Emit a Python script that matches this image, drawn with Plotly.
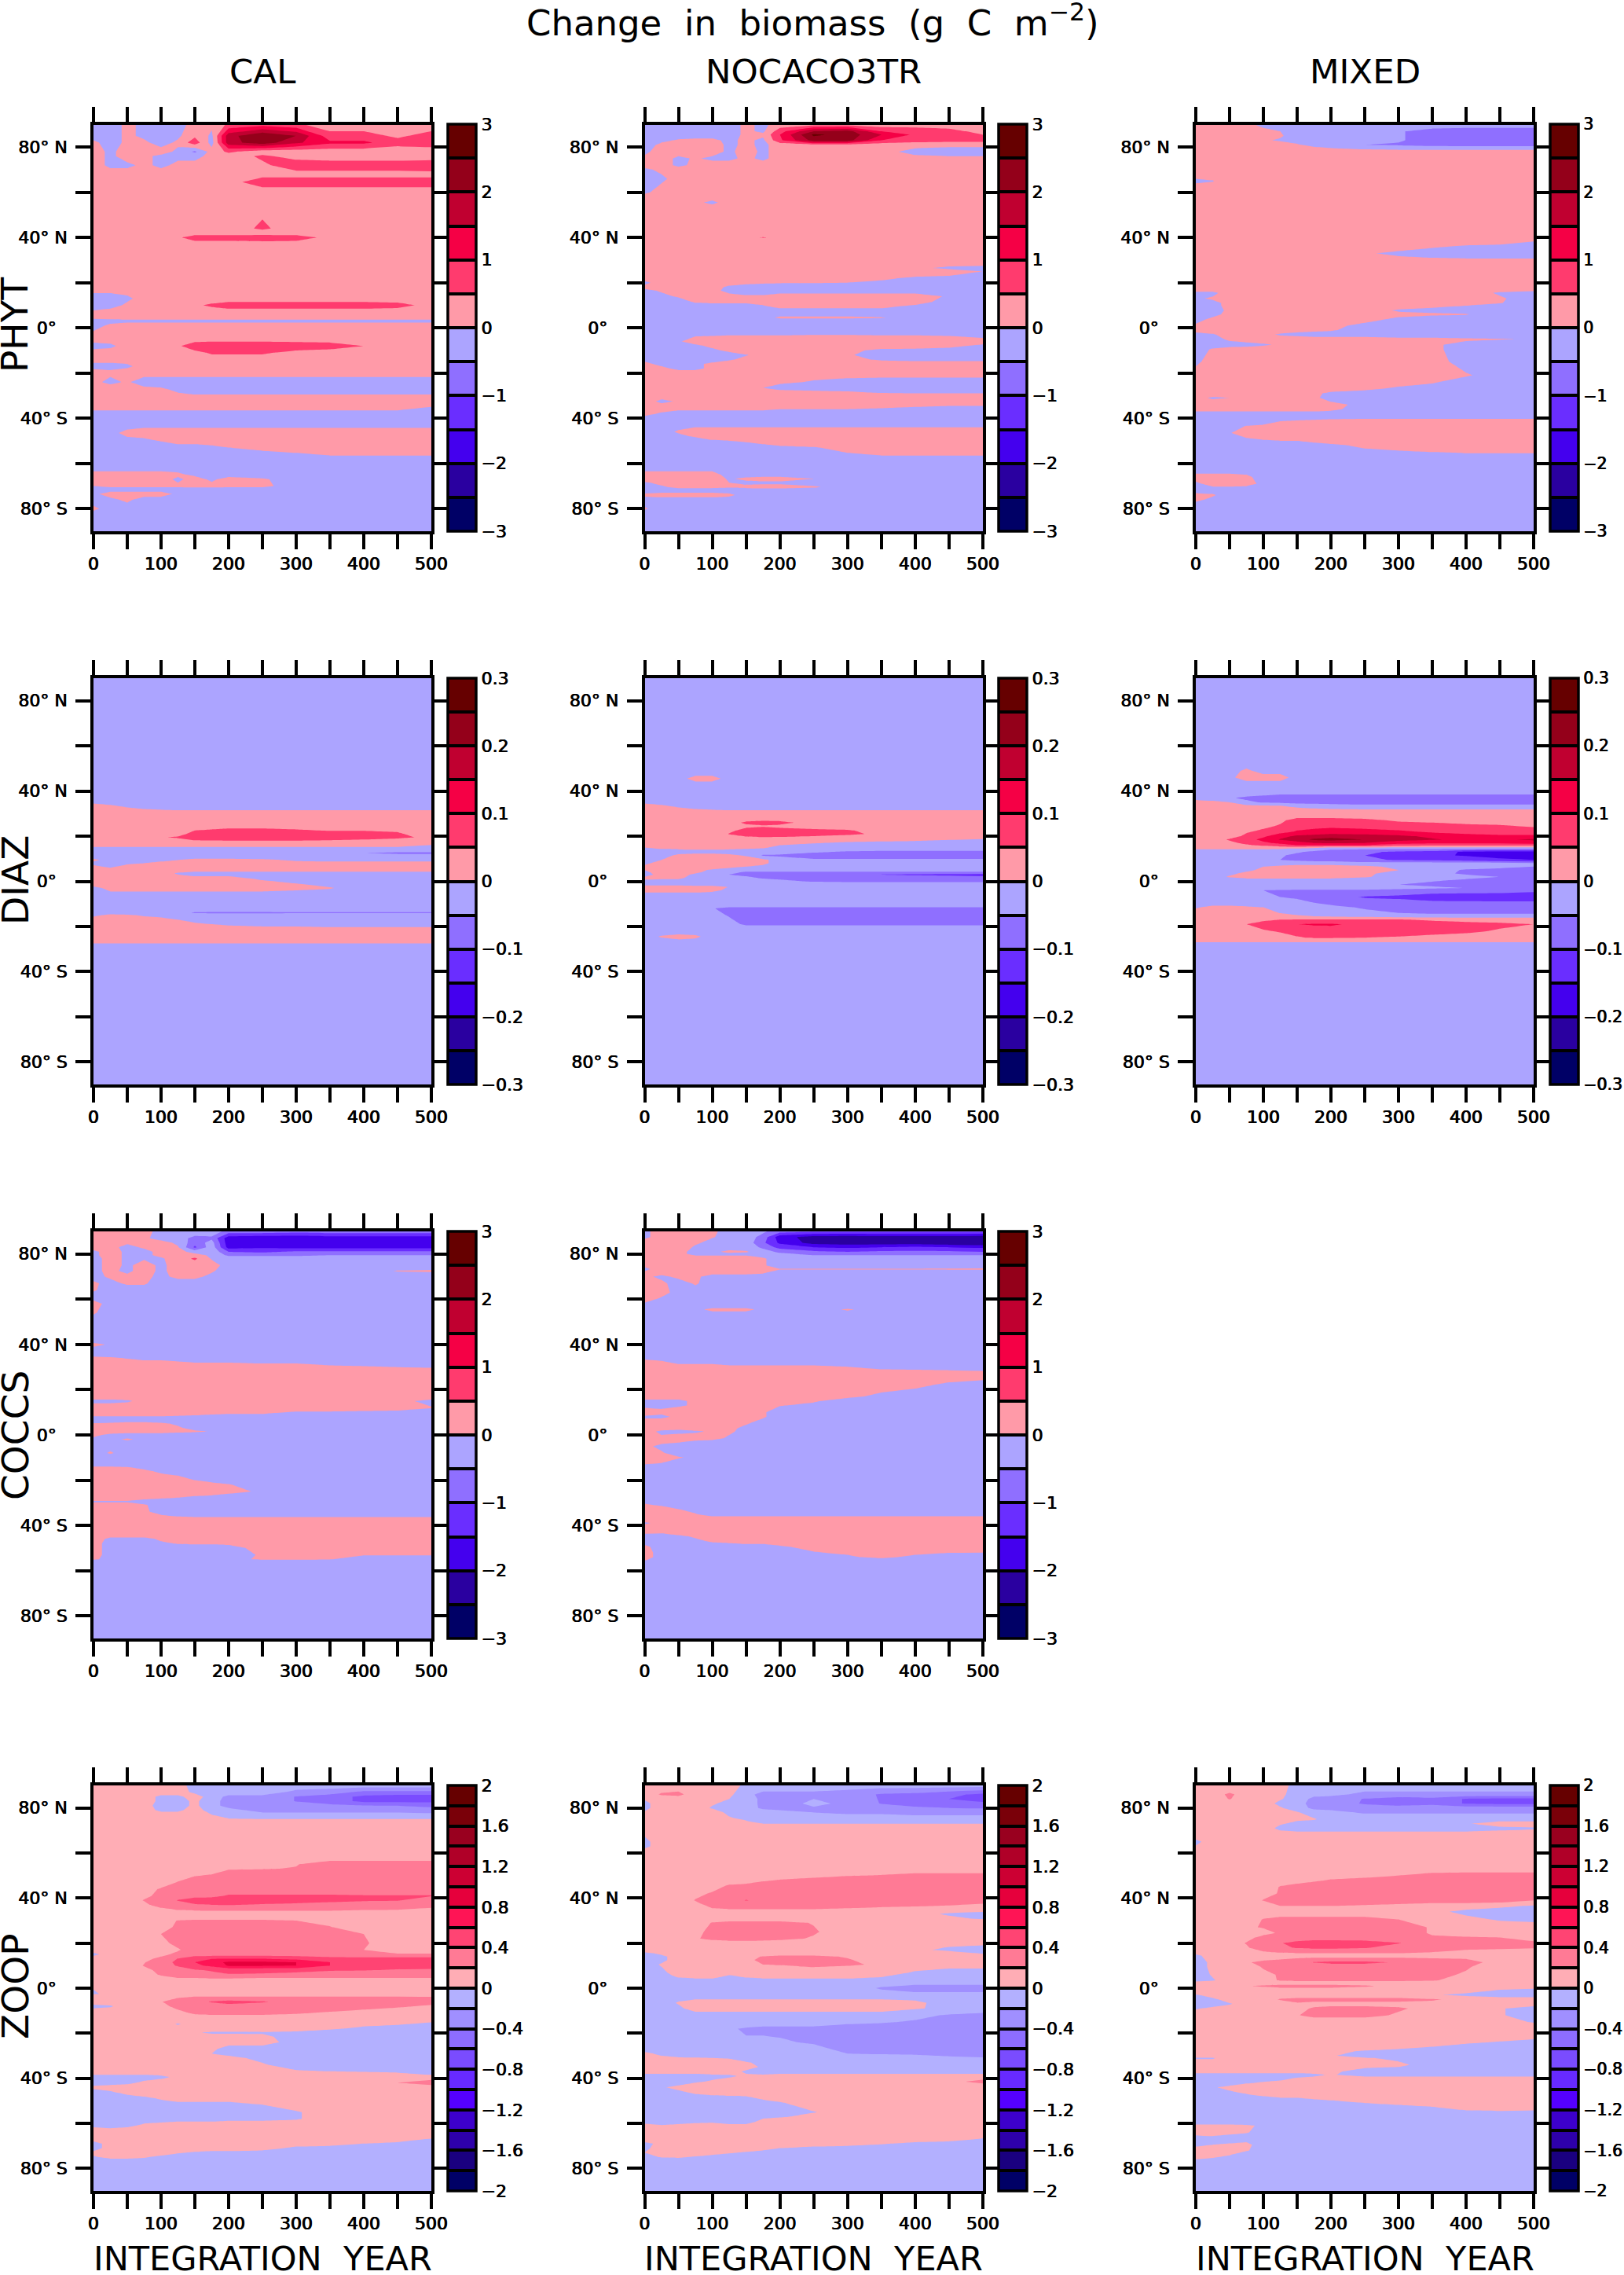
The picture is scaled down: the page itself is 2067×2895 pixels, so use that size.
import plotly.graph_objects as go

W, H = 2067, 2895
YEARS = [0, 25, 50, 75, 100, 125, 150, 175, 200, 250, 300, 350, 400, 450, 500]

# Each row: (latitude, values along YEARS). A short row keeps its last value to year 500.
PHYT_CAL = [
 (90,[-.2,-.2,.1,-.1,-.2,-.2,.2,.1,.6,.8,.6,.2]),
 (85,[-.2,-.2,.1,-.1,-.2,-.1,.4,-.1,1.8,2.5,2.0,.7,.7,.4,.7]),
 (82,[.1,-.2,.1,.1,-.2,.1,.8,-.2,1.8,2.3,1.6,1.1,1.1,.7,.8]),
 (78,[.2,-.1,.2,.2,.2,-.1,-.6,.2,.6,.2]),
 (76,[.2,-.1,.2,.1,-.1,-.1,-.1,.1,.2,.6,.3,.2]),
 (72,[.2,-.1,-.1,.1,-.1,.1,.1,.1,.2,.4,.8,.8,.8,.8,.9]),
 (68,[.2]*9+[.3]),
 (64.5,[.2]*8+[.3,.8]),
 (60,[.2]),
 (44,[.2]*9+[.6,.2]),
 (42,[.2]),
 (40,[.2]*5+[.4,.8,.8,.8,.9,.8,.3,.2]),
 (37,[.2]),
 (17,[.2]),
 (13,[-.3,-.3,-.1,.2]),
 (10,[-.3,-.2,.1,.2,.2,.3,.4,.6,.8,.8,.8,.8,.8,.7,.3]),
 (7,[.1,.2]),
 (5,[.2]),
 (3,[-.2,-.15,-.1]),
 (1,[-.2,.1,.2]),
 (-2,[.05,.2]),
 (-5,[.2]),
 (-8,[-.2,-.1,.2,.2,.2,.4,.9,1,1,1,.9,.8,.5,.3,.2]),
 (-11,[.2,.2,.2,.2,.2,.2,.3,.6,.6,.6,.3,.2]),
 (-14,[.2]),
 (-17,[-.2,-.2,-.1,.2]),
 (-19.5,[.2,.1,.2]),
 (-24,[.1,-.1,.05,-.2]),
 (-27,[.2,.2,.2,.1,.05,-.1,-.2]),
 (-32,[.2]),
 (-35,[.2]*14+[0]),
 (-38,[-.2]),
 (-42,[-.2]),
 (-46.5,[-.2,-.1,.1,.2]),
 (-50,[-.2,-.2,-.1,-.1,.02,.2]),
 (-53,[-.2]*7+[-.1,0,.05,.1,.2]),
 (-60,[-.2]),
 (-62,[-.2]),
 (-65,[.2,.2,.2,.2,.2,.1,-.1,-.1,-.2]),
 (-67,[.2,.2,.2,.2,.2,-.1,.2,-.1,.2,.05,-.2]),
 (-70,[0,.1,.1,.1,.1,.1,.15,.15,.1,.1,-.2]),
 (-71.5,[-.2]),
 (-73.5,[-.1,.2,.2,.2,.2,-.1,-.2]),
 (-76,[-.2,-.1,.1,-.2]),
 (-80,[.1,-.2]),
 (-83,[-.2]),
 (-90,[-.2]),
]
PHYT_NOC = [
 (90,[-.2]*6+[.1,-.1,.2,.3,.3,.2]),
 (87,[-.2]*6+[.1,-.1,.8,2.0,2.2,1.0,.9,.7,.3]),
 (85.5,[-.2]*6+[.1,.1,1.0,2.6,2.3,1.5,.9,.8,.5]),
 (83,[-.2,-.1,.05,.1,.1,-.1,.1,-.1,.9,2.2,2.2,1.0,.8,.7,.7]),
 (81,[-.2,.1,.2,.2,.2,-.1,.1,-.1,.2,.3,.3,.2,.1]),
 (78,[-.1,.2,.2,.2,.2,-.1,.2,-.1,.2,.2,.2,.1,-.1,-.2]),
 (75,[.1,.2,-.1,.05,-.1,-.1,.1,-.1,.2,.2,.2,.2,.1]),
 (72,[.2,.2,-.1,.1,.2]),
 (70,[-.1,.1,.2]),
 (66,[-.2,-.1,.2]),
 (60,[-.1,.2]),
 (58,[.2]),
 (55.5,[.2,.2,.2,.1,-.1,.2]),
 (53,[.2]),
 (41,[.2]),
 (40,[.2]*6+[.3,.55,.3,.2]),
 (39,[.2]),
 (28,[.2]*13+[.1,.05]),
 (26.5,[.2]*12+[.1,-.1]),
 (25,[.2]*14+[0]),
 (22,[.2]*10+[.1,.05,-.05,-.1,-.2]),
 (20,[-.1,.2,.2,.2,.2,.1,.05,.05,.03,.02,0,-.05,-.1,-.2]),
 (18,[.1,.2,.2,.2,.1,-.05,-.1,-.2]),
 (16.5,[-.1,.05,.2,.2,.1,-.1,-.2]),
 (14,[-.2,-.1,.05,.2,.2,.1,.05,.05,.2,.2,.2,.2,.2,-.05,-.2]),
 (11.5,[-.2,-.2,-.2,.05,.1,.1,.1,.15,.2,.2,.2,.2,.2,-.2]),
 (9.5,[-.2]*7+[-.05,.1,.1,.1,.1,-.1,-.2]),
 (7,[-.2]),
 (4.5,[-.2]*7+[-.1,.05,.05,.05,.02,-.1,-.2]),
 (3,[-.2]),
 (-2,[-.2]),
 (-4,[-.2,-.2,-.2,.02,.05,.1,.1,.1,.1,.15,.15,.1,.1,.05,-.05]),
 (-6,[-.2,-.2,-.05,.2]),
 (-8,[-.2,-.2,-.2,-.1,.1]+[.2]*7+[.15,.1,-.1]),
 (-10,[-.2,-.2,-.2,-.2,-.1,.1,.2,.2,.2,.2,.1,-.1,-.1,-.15,-.2]),
 (-12,[-.2]*6+[-.02,.1,.2,.2,.05,-.2]),
 (-14,[-.1,-.2,-.2,-.2,-.2,-.05,.1,.1,.2,.2,.1,-.05,-.1]),
 (-16,[.1,-.1,-.2,-.1,.1,.2]),
 (-18,[.2,.1,-.1,-.1,.1]+[.2]*8+[.1]),
 (-20,[.2]),
 (-24,[.2]*8+[.1,-.05,-.15,-.2]),
 (-26.5,[.2]*6+[.1,0,-.2]),
 (-28.5,[.2]*9+[.1,.05,-.05,-.1]),
 (-30,[.2]),
 (-32.5,[.2,-.1,.05,.2]),
 (-35,[.2]*8+[.1,.1,.1,.05,0,-.05]),
 (-38,[.1,-.05,-.2]),
 (-41,[-.2]),
 (-42,[-.2]),
 (-46,[-.2,-.15,.05,.2]),
 (-48,[-.2,-.2,-.1,.05,.2]),
 (-50,[-.2,-.2,-.2,-.2,-.05,0,.05,.1,.15,.2]),
 (-53,[-.2]*7+[-.1,-.05,-.02,.1,.2]),
 (-60,[-.2]),
 (-62,[-.2]),
 (-65,[.2,.2,.2,.2,.2,-.2]),
 (-66.8,[.2,.2,.2,.2,.2,-.05,.1,.2,.2,0,-.2]),
 (-68.5,[-.05,.1,.2,.2,.2,0,-.1,-.1,-.1,-.2]),
 (-70.4,[-.2,-.05,.1,.1,.1,.05,.1,.15,.15,.05,-.2]),
 (-72,[-.2]),
 (-74,[.1,.2,.2,.2,.2,.1,-.2]),
 (-76,[-.2]),
 (-80,[.05,-.2]),
 (-82,[-.2]),
 (-90,[-.2]),
]
PHYT_MIX = [
 (90,[.1,.2,.2,.1,-.1,-.2]),
 (87,[.2,.2,.2,.2,.1,0,-.2,-.2,-.2,-.3,-.45,-.7,-.8]),
 (85,[.2,.2,.2,.2,.2,.05,-.2,-.2,-.2,-.3,-.45,-.7,-.8]),
 (83,[.2,.2,.2,.2,.05,-.05,-.15,-.2,-.2,-.3,-.45,-.7,-.8]),
 (81,[.2,.2,.2,.2,.2,.2,.05,-.15,-.2,-.5,-.55,-.7,-.8]),
 (80,[.2]*6+[.1,.02,-.05,-.2,-.3]),
 (78,[.2]),
 (68,[.2]),
 (65,[-.1,-.02,.2]),
 (62,[.2]),
 (38.5,[.2]*14+[.02]),
 (36,[.2]*11+[.05,-.05,-.1,-.2]),
 (33,[.2]*9+[.05,-.1,-.2]),
 (30.5,[.2]*10+[.1,.05,.02]),
 (28,[.2]),
 (17,[.2]),
 (15.5,[-.1,-.1,.2,.2,.2,.2,.2,.2,.2,.2,.2,.2,.2,-.05,-.2]),
 (13,[-.05,.05]+[.2]*10+[.1,.05,-.2]),
 (11,[-.2,-.1,.1]+[.2]*9+[.1,.02,-.2]),
 (10,[-.2,-.1,.1]+[.2]*8+[.1,.02,-.1,-.2]),
 (7.7,[-.2,-.2,.1]+[.2]*7+[-.05,-.1,-.2]),
 (6,[-.2,-.1,.1]+[.2]*7+[.1,.05,.02,-.2]),
 (3.5,[-.1,.1]+[.2]*7+[.1,-.1,-.2]),
 (1,[.05]+[.2]*7+[.1,-.1,-.2]),
 (-1,[.2,.2,.2,.2,.2,.15,.1,.1,.05,-.2]),
 (-3,[-.2,-.05,.2,.2,.1,-.05,-.1,-.2]),
 (-5,[-.2,-.2,.1]+[.2]*7+[.1,.1,.05,.02,-.02]),
 (-7.5,[-.1,-.2,-.2,-.15,-.05,.05]+[.2]*5+[.05,-.1,-.2]),
 (-9.5,[-.2,.05]+[.2]*9+[.1,-.2]),
 (-15,[-.1]+[.2]*11+[-.2]),
 (-21,[.2]*12+[.05,-.2]),
 (-24,[.2]*11+[.05,-.2]),
 (-27,[.2]*9+[.1,-.1,-.2]),
 (-29,[.2]*7+[.1,-.1,-.2]),
 (-31,[.1,-.05,0,.2,.2,.2,.2,.1,-.2]),
 (-34,[.2]*8+[.15,-.15,-.2]),
 (-36,[.2]*8+[.1,-.2]),
 (-38,[-.2]),
 (-39,[-.2]),
 (-41.5,[-.2]*5+[.02,.06,.1,.15,.2]),
 (-43.5,[-.2,-.2,-.2,.02,.1,.2]),
 (-46.5,[-.2,-.2,-.02,.15,.2]),
 (-49,[-.2,-.2,-.2,-.02,.05,.1,.1,.15,.2]),
 (-52,[-.2]*7+[-.1,-.05,.05,.1,.15,.2]),
 (-59,[-.2]),
 (-63,[-.2]),
 (-66,[.2,.2,.2,.1,-.2]),
 (-69,[-.1,.2,.2,.15,-.1,-.2]),
 (-71.5,[-.2]),
 (-74,[.1,.05,-.2]),
 (-76,[.1,-.1,-.2]),
 (-79,[-.2]),
 (-90,[-.2]),
]
DIAZ_CAL = [
 (90,[-.02]),
 (36,[-.02]),
 (33,[.02,.008,-.002,-.01,-.015,-.02]),
 (30,[.02]),
 (25,[.02]*6+[.025,.03]),
 (21,[.02]*5+[.035,.065,.07,.08,.08,.07,.06,.06,.055,.03]),
 (19.5,[.02,.02,.02,.02,.048,.055,.07,.075,.08,.08,.08,.07,.07,.06,.04]),
 (17.5,[.02]*5+[.03,.04,.04,.04,.04,.04,.04,.03,.02]),
 (16.5,[.02]*14+[.004]),
 (14,[-.02]),
 (12.5,[-.02]*12+[-.05,-.06]),
 (11,[-.02]),
 (9.5,[.01,-.02,-.02,-.015,-.01,-.001,.01,.01,.01,.005,-.005,-.01]),
 (8,[-.01,-.02,-.01,0,.01,.02,.02,.02,.02,.02,.01]),
 (6.5,[.01,-.01,.02]),
 (5,[.02]),
 (3.5,[.02,.02,.02,.02,.02,-.005,-.02]),
 (1,[.02]*9+[-.005,-.02]),
 (-1.5,[.02]*10+[.005,-.01,-.02]),
 (-3,[-.02]+[.02]*9+[.01,.003,-.02]),
 (-6,[-.02]),
 (-12.5,[-.02]),
 (-13.9,[-.02]*5+[-.03,-.055,-.06,-.06,-.06,-.055]),
 (-15,[-.01,.01,.005,-.005,-.01,-.015,-.02]),
 (-17,[.02,.02,.02,.015,.01,0,-.01,-.015,-.015,-.02]),
 (-19,[.02]*5+[.01,.005,0,-.005,-.01,-.01,-.015]),
 (-22,[.02]),
 (-26,[.02]),
 (-29,[-.02]),
 (-90,[-.02]),
]
DIAZ_NOC = [
 (90,[-.02]),
 (48,[-.02]),
 (45.5,[-.02,-.02,-.02,.02,.02,-.02]),
 (43,[-.02]),
 (36,[-.02]),
 (33,[.02,.008,-.002,-.01,-.015,-.02]),
 (30,[.02]),
 (28,[.02]),
 (26,[.02]*5+[.03,.06,.07,.065,.03,.02]),
 (24.5,[.02]*5+[.03,.04,.045,.04,.03,.025,.02]),
 (22.5,[.02]*5+[.04,.065,.07,.065,.06,.055,.03,.02]),
 (21,[.02]*5+[.052,.07,.075,.07,.07,.06,.04,.02]),
 (19,[.02]*5+[.03,.035,.04,.04,.03,.02,.02,.02,.01,.003]),
 (17,[.02]*8+[.01,.002,-.005,-.01,-.015,-.02]),
 (15,[0,.01,.015,.02,.02,.015,.01,.005,-.01,-.02]),
 (13,[-.02]*9+[-.045,-.055,-.06]),
 (11.5,[-.02,-.02,.01,.02,.02,.01,-.005,-.055,-.06,-.07]),
 (9.5,[-.02,0,.02,.02,.02,.02,.02,.01,-.02,-.045]),
 (8,[-.01]+[.02]*6+[.01,-.02]),
 (6.5,[.01,.02,.02,.02,.02,.01,0,-.01,-.02]),
 (5,[0,.02,.02,.01,-.005,-.015,-.02]),
 (4,[-.01,.02,.02,.01,-.02,-.03,-.06]),
 (3,[-.02,.02,.02,-.01,-.02,-.05,-.06,-.065,-.07,-.08,-.09,-.1,-.105,-.11,-.12]),
 (1.5,[.01,.01,.01,-.02,-.02,-.03,-.04,-.055,-.06,-.07,-.08]),
 (0,[-.01,-.02,-.02,-.02,-.02,-.02,-.02,-.03,-.04,-.055,-.06]),
 (-1.5,[-.01,-.01,-.01,-.02]),
 (-2.5,[.02,.02,.02,.02,.02,-.002,-.02]),
 (-4,[.02,.02,.02,.02,.01,-.01,-.02]),
 (-6,[-.02]),
 (-10,[-.02]),
 (-12,[-.02,-.02,-.02,-.02,-.048,-.06]),
 (-15,[-.02,-.02,-.02,-.02,-.03,-.055,-.06]),
 (-19,[-.02]*5+[-.03,-.06]),
 (-21,[-.02]),
 (-22.5,[-.02]),
 (-24.5,[-.02,.005,.02,.01,-.02]),
 (-27,[-.02]),
 (-90,[-.02]),
]
DIAZ_MIX = [
 (90,[-.02]),
 (52,[-.02]),
 (49,[-.02,-.02,-.02,.01,-.02]),
 (46,[-.02,-.02,-.01,.02,.02,.02,-.02]),
 (43,[-.02]),
 (40,[-.02]),
 (38,[-.02,-.02,-.02,-.04,-.05,-.06]),
 (37,[-.02,-.02,-.045,-.06,-.07]),
 (35,[.02,.01,0,-.04,-.055,-.06,-.07]),
 (33.5,[.02,.02,.02,.01,.005,0,-.01,-.02,-.03,-.04]),
 (31,[.02]),
 (29,[.02]*5+[.03]),
 (27,[.02,.02,.02,.02,.03,.04,.07,.07,.07,.06,.045,.04,.03]),
 (24.5,[.02,.02,.02,.03,.04,.055,.08,.09,.09,.08,.07,.065,.06,.055,.045]),
 (22,[.02,.02,.02,.045,.06,.08,.105,.11,.12,.12,.11,.09,.08,.075,.07]),
 (20,[.02,.02,.03,.06,.09,.13,.16,.17,.18,.17,.16,.14,.12,.11]),
 (18.5,[.02,.03,.055,.08,.115,.155,.18,.21,.22,.2,.17,.155,.14,.14,.16]),
 (17,[.02,.02,.04,.06,.09,.11,.13,.15,.155,.15,.12,.11,.11,.11,.12]),
 (16,[.01,.02,.03,.045,.06,.08,.1,.1,.1,.1,.07,.06]),
 (14.5,[.005]*6+[-.005,-.02,-.04]),
 (13,[-.02]*5+[-.03,-.045,-.06,-.07,-.09,-.11,-.12,-.16,-.17]),
 (11.5,[-.02]*5+[-.045,-.06,-.07,-.08,-.1,-.12,-.14,-.155,-.17]),
 (9.5,[-.02]*5+[-.05,-.06,-.07,-.07,-.09,-.105,-.11,-.12,-.14,-.15]),
 (8,[-.02]*9+[-.03,-.03,-.03,-.03,-.03,-.04]),
 (6.5,[-.02,-.02,-.02,-.02,0,.01,.02,.02,.02,.01,-.01,-.02,-.03,-.04,-.05]),
 (5,[-.02,-.02,-.02,-.01,.01,.02,.02,.02,.02,.02,0,-.03,-.055,-.06]),
 (3.5,[-.02,-.02,-.01,.01,.02,.02,.02,.02,.02,.01,-.02,-.04,-.055,-.06]),
 (2,[-.02,-.02,.005,.02,.02,.02,.02,.02,.02,.005,-.02,-.03,-.04,-.05,-.06]),
 (.5,[-.02]*10+[-.025,-.045,-.055,-.06]),
 (-1.5,[-.02]*10+[-.05,-.06,-.065,-.07]),
 (-3,[-.02]*10+[-.03,-.04,-.05,-.06]),
 (-4,[-.02,-.02,-.02,-.03,-.05,-.055,-.06,-.06,-.06,-.06,-.07,-.08,-.08,-.08,-.09]),
 (-7,[-.02,-.02,-.02,-.02,-.04,-.05,-.055,-.06,-.08,-.105,-.11,-.12,-.125,-.13]),
 (-9.5,[-.02]*5+[-.03,-.04,-.05,-.06,-.07,-.08,-.09]),
 (-11.5,[-.005,.01,.01,.005,0,-.01,-.02,-.03,-.04,-.055,-.06,-.06,-.07]),
 (-14,[.02,.02,.02,.02,.01,-.001,-.01,-.02,-.03,-.04,-.05,-.06]),
 (-15.5,[.02,.02,.02,.02,.02,.01,.005,0,-.005,-.01,-.02]),
 (-17,[.02,.02,.02,.035,.04,.05,.055,.055,.055,.055,.055,.04,.03]),
 (-19,[.02,.02,.03,.05,.07,.085,.1,.105,.105,.09,.085,.08,.07,.06,.05]),
 (-22,[.02,.02,.02,.03,.045,.055,.07,.08,.085,.08,.075,.07,.06,.045,.03]),
 (-25,[.02,.02,.02,.02,.02,.03,.045,.055,.055,.05,.045,.035,.03,.02]),
 (-26,[.02]),
 (-28,[-.02]),
 (-90,[-.02]),
]
COCCS_CAL = [
 (90,[.2,.2,.2,.1,-.1,-.1,-.1,-.2,-.7,-.7,-.8,-.7]),
 (87,[.2,.2,.2,.1,-.2,-.2,-.7,-.6,-1.8,-1.9,-1.9,-1.8]),
 (85,[.2,.2,.05,.1,.2,-.1,-.8,-.3,-1.8,-1.8,-1.8,-1.7]),
 (83,[.2,.1,-.1,.05,.2,.05,-1.1,-.2,-1.7,-1.6,-1.7]),
 (81,[-.1,.2,-.1,-.1,.1,.2,-.2,-.1,-1.0,-1.1,-.9]),
 (79.5,[-.1,.2,-.1,-.1,.1,.2,.2,-.1,-.6,-.6,-.6,-.5]),
 (78,[-.2,.2,-.1,-.05,-.05,.2,.6,-.05,-.2]),
 (75,[-.2,.2,-.1,.2,-.1,.2,.2,.2,-.2]),
 (72.5,[-.1,.1,-.1,.2,-.1,.2,.2,.05,-.2,-.2,-.2,-.2,-.1,.02,.05]),
 (70,[-.1,.05,.1,.1,-.1,.1,.1,-.1,-.2]),
 (67,[.05,-.1,.05,.05,-.2]),
 (64,[.05,-.2]),
 (61,[-.2]),
 (58,[.2,-.2]),
 (54,[.05,-.2]),
 (50,[-.2]),
 (42,[-.2]),
 (40,[.1,-.05,-.05,-.2]),
 (37,[-.2]),
 (36,[-.2]),
 (34,[.1,.05,-.02,-.1,-.1,-.2]),
 (31,[.2]*6+[.1,.1,.1,.05,.05,-.02,-.05,-.1,-.15]),
 (28,[.2]),
 (17,[.2]),
 (15,[-.1,-.1,-.05,.1]+[.2]*9+[.1,-.1]),
 (12,[.2]*14+[.02]),
 (9.5,[.2]*5+[.15,.1,.05,.02,.02,-.1,-.1,-.15,-.2]),
 (7,[-.2]),
 (5,[.02,.05,.1,.1,.05,-.05,-.2]),
 (3,[.2,.2,.2,.2,.2,.05,-.1,-.2]),
 (1.5,[.1,.2,.2,.2,.2,.1,.05,-.02,-.2]),
 (0,[.1,-.1,-.2]),
 (-2,[-.1,-.1,.05,-.1,-.2]),
 (-4,[-.2]),
 (-8,[-.2,.05,-.2]),
 (-10,[-.2]),
 (-13,[-.2]),
 (-14.5,[.1,.1,.05,-.1,-.2]),
 (-16,[.2,.2,.2,.1,-.1,-.2]),
 (-19,[.2,.2,.2,.2,.2,.1,-.1,-.2]),
 (-22,[.2]*7+[.1,.02,-.2]),
 (-25,[.2]*8+[.1,-.05,-.2]),
 (-28,[.2,.2,.2,.1,.02,-.02,-.1,-.15,-.2]),
 (-29.5,[-.05,-.05,-.05,-.2]),
 (-31,[.2,.2,.2,.05,-.2]),
 (-34,[.2,.2,.2,.1,-.2]),
 (-36,[.2,.2,.2,.2,.1,-.02,-.1]),
 (-37,[.2]),
 (-44,[.2]),
 (-46,[.2,-.1,-.1,-.1,.05,.2]),
 (-48,[.2,-.2,-.2,-.2,-.05,.02,.05,.05,.05,.2]),
 (-50,[.2]+[-.2]*7+[-.1,.1,.2]),
 (-53,[.2]+[-.2]*8+[.05,.1,.1,.03]),
 (-55,[.1]+[-.2]*8+[.1,.1,.02,-.2]),
 (-55.5,[-.2]),
 (-90,[-.2]),
]
COCCS_NOC = [
 (90,[-.1,.2,.2,.2,.05,-.1,-.2,-.4,-.8,-.9]),
 (87.5,[-.1,.2,.2,.2,.02,-.1,-.2,-.7,-1.8,-2.2,-2.3,-2.2,-2.2,-2.2,-2.3]),
 (85,[.2,.2,.2,.05,-.1,-.2,-.2,-.9,-1.6,-2.2,-2.3,-2.3,-2.3,-2.4,-2.5]),
 (83,[.2,.2,.2,-.05,-.2,-.2,-.2,-.6,-1.2,-1.5,-1.6,-1.5,-1.4,-1.5,-1.6]),
 (81,[.2,.2,.1,-.1,-.1,.1,.05,-.3,-.6,-.9,-1.0,-.9,-.9,-.9,-1.0]),
 (80,[.2,.2,.1,-.1,-.1,-.1,-.1,-.2,-.4,-.6]),
 (78,[.2]*7+[.05,-.2]),
 (75,[.1]+[.2]*6+[.05,-.2]),
 (73.3,[-.1]+[.2]*6+[.05,.02,.02,.02,.02,.03,.04,.05]),
 (72,[.05]+[.2]*6+[.1,-.2]),
 (70,[.1,-.1,.1,.1,-.2]),
 (67,[.2,.1,-.2,.05,-.2]),
 (63,[.2,.1,-.1,-.2]),
 (60,[.1,-.05,-.2]),
 (57,[-.1,-.2]),
 (55.5,[-.2,-.2,-.2,-.1,.1,.1,.1,-.1,-.2,-.2,.05,-.2]),
 (53,[-.2]),
 (35,[-.2]),
 (32.5,[.1,.02,-.1,-.1,-.1,-.2]),
 (29,[.2]*10+[.1,0,-.02,-.05,-.1]),
 (27,[.2]),
 (24.5,[.2]*13+[.1,.02]),
 (22,[.2]*12+[.1,-.1,-.2]),
 (20.5,[.2]*11+[.1,0,-.2]),
 (17,[.2]*10+[.1,-.1,-.2]),
 (15,[-.1,-.1,-.1,.1,.2,.2,.2,.2,.2,.05,-.2]),
 (13,[-.1,-.1,-.05,.05,.2,.2,.2,.2,.02,-.1,-.2]),
 (10,[.2,.1,.2,.2,.2,.2,.1,.05,-.2]),
 (8,[-.05,-.1,.1,.2,.2,.2,.1,.05,-.2]),
 (6,[.1,.2,.2,.2,.2,.1,.1,-.1,-.2]),
 (3,[.2,.2,.1,.2,.1,.1,-.1,-.2]),
 (1.5,[.2,-.1,-.1,-.05,.05,.1,-.2]),
 (-1.5,[.2,.1,.2,.2,.2,-.1,-.2]),
 (-3,[.2,.1,.05,-.1,-.2]),
 (-5,[.1,-.1,-.2]),
 (-8,[.2,.05,-.2]),
 (-10,[.2,.2,.05,-.1,-.2]),
 (-12,[.2,.05,-.2]),
 (-14,[-.2]),
 (-28,[-.2]),
 (-31,[.05,-.05,-.2]),
 (-33,[.2,.2,.02,-.1,-.2]),
 (-35,[.2,.2,.2,.02,-.2]),
 (-37,[.2]),
 (-39,[-.05,.1,.2]),
 (-41,[.2]),
 (-43,[.1,.05,.2]),
 (-45,[-.2,-.15,-.1,.05,.2]),
 (-47,[-.2,-.2,-.2,-.1,.05,.1,.2]),
 (-49.5,[.1]+[-.2]*7+[-.05,.1,.2]),
 (-52,[.2]+[-.2]*8+[-.02,.05,.1,.1,.01,0]),
 (-54,[.2]+[-.2]*9+[-.05,.1,-.1,-.2]),
 (-55.4,[.02,-.2]),
 (-55.5,[-.2]),
 (-90,[-.2]),
]
ZOOP_CAL = [
 (90,[.1]*6+[-.1]),
 (87,[.1]*6+[-.05,-.1,-.1,-.1,-.25,-.3,-.45]),
 (85,[.1,.1,.1,.1,-.05,-.05,.1,-.1,-.25,-.25,-.41,-.5,-.65,-.7]),
 (83,[.1,.1,.1,.1,-.05,-.1,.05,-.15,-.25,-.25,-.41,-.5,-.65]),
 (81,[.1,.1,.1,.1,-.1,-.1,.05,-.15,-.25,-.25,-.3,-.35,-.38,-.4,-.45]),
 (79,[.1,.1,.1,.1,-.05,-.05,.1,-.1,-.15,-.25,-.25,-.25,-.25,-.25,-.3]),
 (77,[.1]*7+[0,-.1,-.15]),
 (75.5,[.1]*8+[-.01,-.02]),
 (73,[.1]),
 (58,[.1]),
 (55,[.1]*10+[.19,.3]),
 (53,[.1]*7+[.15,.19,.19,.21,.3]),
 (50.5,[.1]*6+[.17,.2,.25,.3]),
 (47,[.1]*5+[.21,.3]),
 (44,[.1,.1,.1,.12,.22,.3]),
 (41,[.1,.1,.1,.16,.25,.3,.33,.35,.42,.42,.42,.42,.41]),
 (39,[.1,.1,.1,.21,.3,.41,.5,.5,.5,.5,.5,.45,.42,.41,.3]),
 (37,[.1,.1,.1,.15,.3,.32,.38,.4,.41,.38,.35,.33,.3]),
 (35,[.1,.1,.1,.1,.15,.22,.24,.25,.25,.25,.25,.25,.22,.21,.15]),
 (33,[.1]),
 (31,[.1]),
 (30,[.1]*5+[.21,.25,.25,.25,.25,.2,.15,.1]),
 (27,[.1]*5+[.25,.3,.3,.3,.3,.25,.21,.1]),
 (24,[.1,.1,.1,.1,.2,.3,.3,.3,.3,.3,.3,.25,.2,.1]),
 (20,[.1,.1,.1,.1,.15,.25,.3,.3,.3,.3,.3,.3,.22,.1]),
 (17,[.1]*5+[.18,.3,.3,.3,.3,.3,.3,.2,.1]),
 (15,[-.05,.1,.1,.1,.15,.25,.3,.3,.3,.3,.3,.25,.22]),
 (13,[.1,.1,.1,.15,.25,.41,.55,.6,.61,.61,.55,.5]),
 (11.5,[.1,.1,.1,.19,.3,.45,.6,.7,.85,.85,.8,.6,.55,.5]),
 (10,[.1,.1,.1,.21,.3,.42,.55,.65,.82,.82,.8,.6,.5,.48,.45]),
 (8,[.1,.1,.1,.15,.25,.3,.38,.42,.45,.45,.45,.42,.41,.38]),
 (6,[.1,.1,.1,.12,.22,.25,.3,.35,.39,.38,.35,.3,.3,.28,.25]),
 (4.5,[.1,.1,.1,.1,.15,.2,.2,.22,.22,.2]),
 (3,[.1]),
 (-2.5,[-.05,.1]),
 (-3,[.1]),
 (-4.5,[.1,.1,.1,.1,.12,.21,.3,.3,.3,.3,.3,.3,.3,.3,.28]),
 (-6,[.1,.1,.1,.1,.19,.3,.35,.41,.45,.41,.35,.3,.3,.3,.25]),
 (-8,[-.05,-.02,.1,.1,.15,.25,.3,.35,.35,.35,.3,.3,.25,.22,.18]),
 (-11,[.1]*5+[.15,.23,.25,.25,.25,.22,.18,.15,.12,.1]),
 (-13.5,[.1]),
 (-16,[.1]*5+[-.02,.1,.1,.1,.1,.1,.1,.05,.02,-.05]),
 (-18,[.1]*11+[.03,-.05,-.1]),
 (-19.8,[.1]*6+[.02,-.03,-.03,-.02,-.05,-.1]),
 (-21.5,[.1]*9+[.05,-.1]),
 (-24,[.1]*10+[-.1]),
 (-27,[.1]*7+[.05,-.1]),
 (-29,[.1]*7+[0,-.05,-.1]),
 (-31,[.1]*8+[.05,-.05,-.1]),
 (-34,[.1]*9+[.02,-.1]),
 (-37.5,[.1]*10+[.05,.02,.01,0,-.1]),
 (-39.5,[-.1,-.1,-.1,-.1,-.05,.05,.1]),
 (-42,[-.1,-.1,-.05,.05]+[.1]*9+[.2,.3]),
 (-44,[.05,.1]),
 (-46.5,[-.1,-.05,.05,.1]),
 (-49,[-.1,-.1,-.1,-.05,.02,.1]),
 (-52,[-.1]*9+[-.01,.1]),
 (-55,[-.1]*10+[-.02,.1]),
 (-58,[-.1]*8+[-.05,-.05,-.02,.1]),
 (-60.5,[-.05,-.1,-.1,.02,.05,.1]),
 (-63,[.05,.05,.1]),
 (-66,[.1]),
 (-67,[.1]*14+[-.02]),
 (-69,[-.1]+[.1]*10+[.1,0,-.05,-.1]),
 (-71,[-.1]+[.1]*9+[-.05,-.1]),
 (-73,[.05,.1,.1,.1,.1,.02,-.02,-.05,-.05,-.1]),
 (-75,[-.02,.05,.05,.02,-.05,-.1]),
 (-77,[-.1]),
 (-90,[-.1]),
]
ZOOP_NOC = [
 (90,[.1]*6+[-.05,-.1]),
 (86,[.1,.22,.25,.1,.1,.05,-.15,-.25,-.25,-.25,-.3,-.42,-.45,-.55,-.65]),
 (84,[.02,.1,.1,.1,.1,0,-.1,-.25,-.25,-.2,-.25,-.42,-.5,-.6,-.7]),
 (82,[-.05,.1,.1,.1,.02,-.05,-.1,-.25,-.3,-.15,-.25,-.41,-.45,-.5,-.55]),
 (80,[-.05,.1,.1,.1,-.02,-.1,-.15,-.22,-.25,-.22,-.25,-.3,-.38,-.4,-.42]),
 (78,[.02,.1,.1,.1,.1,-.05,-.1,-.15,-.15,-.2,-.22,-.22,-.25]),
 (75.5,[.1]*5+[.02,-.05,-.1,-.1,-.15]),
 (74,[.1]*6+[.02,-.1]),
 (72,[.1]),
 (65,[-.05,.1]),
 (63,[-.05,.1]),
 (60,[.1]),
 (53,[.1]),
 (50,[.1]*9+[.15,.19,.21,.25]),
 (48,[.1]*7+[.17,.21,.25,.3]),
 (45.5,[.1]*4+[.12,.22,.25,.3]),
 (42,[.1,.1,.1,.15,.22,.3]),
 (39,[.1,.1,.1,.21,.3,.32,.41,.35,.3]),
 (37.5,[.1,.1,.1,.15,.3]+[.3]*7+[.28,.25,.2]),
 (35.5,[.1]*4+[.2,.22,.22,.22,.22,.22,.2,.17,.15,.12,.1]),
 (33,[.1]*12+[.05,-.02,-.05]),
 (31,[.1]*13+[.03,-.02]),
 (29,[.1]*4+[.21,.25,.25,.25,.25,.19,.1]),
 (25,[.1,.1,.1,.15,.25,.3,.3,.3,.3,.22,.1]),
 (22,[.1,.1,.1,.18,.25,.3,.3,.28,.25,.18,.1]),
 (20,[.1]),
 (18,[.1]*13+[-.02,-.1]),
 (17,[.1]*12+[.05,-.05,-.1]),
 (15.5,[-.05,.05]+[.1]*12+[-.02]),
 (14,[-.1,-.05]+[.1]*4+[.15,.21,.25,.25,.18,.1]),
 (12.5,[-.1,-.05]+[.1]*4+[.18,.22,.28,.3,.22,.1]),
 (10.5,[-.1,.02]+[.1]*5+[.2,.21,.25,.22,.18,.1]),
 (7,[-.1,-.05]+[.1]*10+[-.02,-.1]),
 (5.5,[-.1,-.1,.05,.1,.1,-.02,.05]+[.1]*4+[.03,-.1]),
 (3,[-.1]),
 (0,[-.1]*11+[-.22,-.3]),
 (-3.5,[-.1]),
 (-6.5,[-.1,-.1,.02]+[.1]*9+[.05,-.1]),
 (-9,[-.1,-.1,-.05]+[.1]*9+[.02,-.05,-.1]),
 (-12,[-.1]*11+[-.1,-.15,-.22,-.25]),
 (-15,[-.1]*10+[-.15,-.18,-.22,-.25]),
 (-18,[-.1]*5+[-.18,-.22,-.25,-.25,-.25,-.3]),
 (-21,[-.1]*4+[-.15,-.15,-.2,-.2,-.21,-.25]),
 (-24,[-.1]*7+[-.12,-.18,-.22,-.25]),
 (-27,[-.1]*9+[-.15,-.25]),
 (-29,[.05,-.05]+[-.1]*7+[-.12,-.2,-.22,-.22,-.25]),
 (-31,[.1,.05,.02,.01,0,-.02,-.1,-.1,-.1,-.1,-.1,-.1,-.15,-.17,-.19]),
 (-33,[.1]*6+[.02,-.05,-.1]),
 (-35,[.1]*6+[.05,-.02,-.1]),
 (-37,[.1]*5+[.05,-.02,-.1]),
 (-39,[-.1,-.1,-.1,-.1,-.05,-.02,.02,.05,.1]),
 (-41.5,[-.1,-.1,-.1,-.02,.02,.05]+[.1]*7+[.15,.25]),
 (-44,[-.1,-.02,.05,.1]),
 (-46,[-.1,-.1,-.03,.05,.1]),
 (-48,[-.1,-.1,-.1,-.05,-.03,-.01,0,.05,.1]),
 (-51,[-.1]*7+[-.05,-.02,.1]),
 (-55,[-.1]*9+[-.01,.1]),
 (-57,[-.1]*6+[-.05,-.03,-.02,.05,.1]),
 (-59.5,[-.02,-.05,-.05,-.02,-.01,-.05,-.05,.05,.1]),
 (-62,[.05,.05,.1]),
 (-65,[.1]),
 (-67,[.1]*14+[-.02]),
 (-69,[-.05,.05]+[.1]*9+[.02,-.05,-.1]),
 (-71,[-.05]+[.1]*6+[.05,0,-.05,-.1]),
 (-73,[0,.1,.1,.1,.05,.02,-.02,-.05,-.1]),
 (-75,[-.05,.01,.02,-.02,-.05,-.1]),
 (-77,[-.1]),
 (-90,[-.1]),
]
ZOOP_MIX = [
 (90,[.1]*5+[.05,-.05,-.1]),
 (86,[.1,.15,.22,.15,.1,.05,-.1,-.15,-.15,-.25]),
 (84,[.1,.1,.21,.1,.1,.02,-.1,-.25,-.3,-.41,-.5,-.45,-.62,-.65]),
 (82,[.1]*5+[-.05,-.15,-.25,-.3,-.42,-.5,-.45,-.62,-.65]),
 (80,[.1]*5+[.02,-.1,-.25,-.25,-.3]),
 (78,[.1]*6+[.02,-.1,-.15,-.22]),
 (75,[.1]*6+[.03,.02,-.1]),
 (73,[.1]*5+[.02,-.05,-.1,-.1,-.1,-.1,-.1,-.02,.1]),
 (71,[.1]*5+[-.05,-.1,-.1,-.1,-.1,-.1,-.1,-.1,-.05,-.02]),
 (68,[.1]),
 (65,[-.05,.1]),
 (60,[.1]),
 (53,[.1]*12+[.12]),
 (51,[.1]*10+[.15,.21,.22]),
 (48,[.1]*6+[.14,.17,.21,.25,.3]),
 (45,[.1]*5+[.21,.25,.3]),
 (42,[.1]*4+[.12,.22,.28,.3]),
 (39,[.1]*4+[.21,.3]+[.3]*8+[.2]),
 (36.5,[.1]*5+[.2,.2,.2,.2,.18,.15,.1,.1,.05,-.02]),
 (34,[.1]*11+[.05,-.05,-.1]),
 (30.5,[.1]*4+[.21,.25,.25,.25,.25,.25,.2,.1,.05,-.02,-.05]),
 (27,[.1,.1,.1,.18,.21,.3,.3,.3,.3,.3,.25,.19,.1]),
 (24.5,[.1]*4+[.15,.22,.3,.3,.3,.3,.3,.18,.1]),
 (22.5,[.1,.1,.1,.15,.25,.3,.3,.3,.3,.3,.25,.22,.22,.2,.1]),
 (20,[.1,.1,.12,.21,.3,.39,.45,.5,.5,.48,.41,.3,.3,.3,.25]),
 (18,[.1,.1,.1,.18,.3,.35,.42,.45,.45,.42,.3,.3,.25,.25,.22]),
 (16,[.1]*4+[.18,.22,.25,.25,.25,.25,.25,.2,.15,.1]),
 (14.5,[-.05,.1]),
 (13,[-.1,.1,.1,.1,.15,.18,.22,.25,.25,.25,.25,.22,.2,.1]),
 (11.5,[-.1,.05,.1,.18,.25,.3,.35,.41,.45,.45,.38,.3,.25,.15,.1]),
 (9.5,[-.1,.05,.1,.1,.22,.25,.25,.3,.3,.3,.3,.28,.22,.1]),
 (6,[-.1,.02,.1,.1,.15,.22,.25,.25,.25,.25,.25,.25,.18,.1]),
 (3.5,[-.1,-.02,.1,.1,.12,.22,.25,.25,.25,.25,.25,.22,.12,.1]),
 (2.5,[.1]),
 (1,[.1,.1,.1,.19,.22,.25,.25,.25,.25,.22,.15,.1]),
 (-1.5,[.1]*11+[.1,.05,-.05,-.1]),
 (-3,[-.02]+[.1]*10+[.02,-.05,-.1]),
 (-5,[-.1,-.05,.1,.1,.1,.22,.25,.25,.25,.25,.25,.22,.15,.1]),
 (-7,[-.1,-.1,-.02,.1,.1,.1,.18,.15,.15,.15,.15,.15,.1]),
 (-9,[-.02,.05,.1,.1,.1,.1,.15,.22,.25,.25,.22,.15,.1,.02,-.1]),
 (-12,[.1]*6+[.19,.25,.25,.25,.18,.1,.1,.02,-.1]),
 (-15,[.1]*14+[-.02]),
 (-17,[.1]),
 (-22,[.1]*14+[.05]),
 (-24,[.1]*12+[.05,-.02,-.1]),
 (-26,[.1]*11+[0,-.1]),
 (-28,[.1]*8+[.05,-.02,-.1]),
 (-30,[.1]*8+[.02,-.1]),
 (-31,[-.02,-.02]+[.1]*7+[.02,-.05,-.1]),
 (-34,[.1]*10+[.05,-.1]),
 (-37,[.1]*8+[.05,-.1]),
 (-38.5,[-.1]*7+[-.05,.02,-.1]),
 (-40,[-.1,-.1,-.1,-.1,-.08,-.05,.02,.05,.1]),
 (-42,[-.1,-.1,-.1,-.02,.02,.05,.1]),
 (-44,[-.1,-.02,.05,.1]),
 (-46,[-.1,-.1,-.02,.05,.1]),
 (-48,[-.1,-.1,-.1,-.05,0,.05,.05,.1]),
 (-50,[-.1]*7+[-.05,-.01,.05,.1]),
 (-52,[-.1]*9+[-.05,-.01,.05,.1]),
 (-54,[-.1]*12+[.02,.05,.02]),
 (-55.5,[-.1]),
 (-60,[-.1]),
 (-61,[.1,.1,.1,.05,-.05,-.1]),
 (-64,[.1,.1,.1,.02,-.1]),
 (-66,[-.05,-.02,-.1]),
 (-69.5,[-.05,0,.02,.05,-.1]),
 (-72,[.1,.1,.1,.02,-.1]),
 (-74,[.1,.1,.01,-.1]),
 (-76,[0,-.05,-.1]),
 (-78,[-.1]),
 (-90,[-.1]),
]

PANELS = [
 (PHYT_CAL, 0, 0, "a"), (PHYT_NOC, 0, 1, "a"), (PHYT_MIX, 0, 2, "a"),
 (DIAZ_CAL, 1, 0, "b"), (DIAZ_NOC, 1, 1, "b"), (DIAZ_MIX, 1, 2, "b"),
 (COCCS_CAL, 2, 0, "a"), (COCCS_NOC, 2, 1, "a"),
 (ZOOP_CAL, 3, 0, "c"), (ZOOP_NOC, 3, 1, "c"), (ZOOP_MIX, 3, 2, "c"),
]
COLUMN_TITLES = ["CAL", "NOCACO3TR", "MIXED"]
ROW_TITLES = ["PHYT", "DIAZ", "COCCS", "ZOOP"]
X_TICKS = list(range(0, 501, 50))
X_LABELS = [str(v) if v % 100 == 0 else "" for v in X_TICKS]
Y_TICKS = list(range(-80, 81, 20))
Y_NAMES = {80: "80° N", 40: "40° N", 0: "0°\u00a0\u00a0", -40: "40° S", -80: "80° S"}
Y_LABELS = [Y_NAMES.get(v, "") for v in Y_TICKS]

COLORS_12 = ["#000066","#2A00A0","#4400EE","#6A2EFF","#8F6FFF","#ACA4FF",
             "#FF9AA8","#FF3B6E","#F50045","#C00030","#94001A","#660000"]
COLORS_20 = ["#000066","#1A0080","#2E00AA","#3D00CC","#5500FF","#672AFF","#7A4CFF","#8D6DFF","#A08FFF","#B3B0FF",
             "#FFADB5","#FF7A95","#FF4473","#FF1455","#E6003C","#CC0033","#B00028","#99001F","#7A0009","#660000"]
# DIAZ is contoured in tenths (factor 10) so its levels are exact; its tick text keeps the true values.
SCALES = {
 "a": dict(lim=3, step=.5, factor=1, colors=COLORS_12, ticks=["−3","−2","−1","0","1","2","3"]),
 "b": dict(lim=3, step=.5, factor=10, colors=COLORS_12, ticks=["−0.3","−0.2","−0.1","0","0.1","0.2","0.3"]),
 "c": dict(lim=2, step=.2, factor=1, colors=COLORS_20, ticks=["−2","−1.6","−1.2","−0.8","−0.4","0","0.4","0.8","1.2","1.6","2"]),
}
COL_X = [(119, 549, 570), (820.5, 1251, 1271), (1522, 1952, 1973)]
ROW_Y = [(158.5, 676), (863, 1380), (1567, 2085), (2272, 2788)]
FONT = "DejaVu Sans"
SHADOW = "0.4px 0 0 black, -0.4px 0 0 black"
TICK_FONT = dict(family=FONT, size=22, color="black", shadow=SHADOW)

def stepped(colors):
    n = len(colors)
    out = []
    for i, c in enumerate(colors):
        out += [[i / n, c], [(i + 1) / n, c]]
    return out

def grid(rows, factor):
    rows = sorted(rows, key=lambda r: -r[0])
    lat = [r[0] for r in rows]
    z = []
    for _, v in rows:
        v = list(v)[:len(YEARS)]
        v = v + [v[-1]] * (len(YEARS) - len(v))
        z.append([round(a * factor, 4) for a in v])
    return lat, z

fig = go.Figure()
layout = {}
for k, (rows, r, c, key) in enumerate(PANELS, start=1):
    s = SCALES[key]
    lat, z = grid(rows, s["factor"])
    x0, x1, cb = COL_X[c]
    y0, y1 = ROW_Y[r]
    n = int(round(2 * s["lim"] / s["step"]))
    levels = [round(-s["lim"] + i * s["step"], 3) for i in range(n + 1)]
    texts = [""] * (n + 1)
    for i, t in enumerate(s["ticks"]):
        texts[i * 2] = t
    sfx = "" if k == 1 else str(k)
    bar_font = dict(TICK_FONT, size=20.5) if c == 2 else TICK_FONT
    fig.add_trace(go.Contour(
        x=YEARS, y=lat, z=z, xaxis="x" + sfx, yaxis="y" + sfx,
        zmin=-s["lim"], zmax=s["lim"], colorscale=stepped(s["colors"]),
        autocontour=False,
        contours=dict(start=-s["lim"], end=s["lim"] + s["step"] * .01, size=s["step"], coloring="fill", showlines=False),
        line=dict(width=0, smoothing=0), hoverinfo="skip",
        colorbar=dict(
            x=cb / W, xanchor="left", xpad=0, y=1 - y1 / H, yanchor="bottom", ypad=0,
            len=(y1 - y0) / H, lenmode="fraction", thickness=36, thicknessmode="pixels",
            outlinecolor="black", outlinewidth=3.5, borderwidth=0,
            tickmode="array", tickvals=levels, ticktext=texts, ticks="inside", ticklen=36,
            tickwidth=3.5, tickcolor="black", tickfont=bar_font,
        ),
    ))
    common = dict(showline=True, linecolor="black", linewidth=3.5, mirror="ticks", ticks="outside",
                  ticklen=19, tickwidth=3.5, tickcolor="black", showgrid=False, zeroline=False,
                  tickfont=TICK_FONT, tickmode="array")
    layout["xaxis" + sfx] = dict(common, domain=[x0 / W, x1 / W], anchor="y" + sfx, range=[0, 500],
                                 tickvals=X_TICKS, ticktext=X_LABELS, tickangle=0)
    layout["yaxis" + sfx] = dict(common, domain=[1 - y1 / H, 1 - y0 / H], anchor="x" + sfx, range=[-90, 90],
                                 tickvals=Y_TICKS, ticktext=Y_LABELS, ticklabelstandoff=6)

def text(s, x, y, size, angle=0):
    return dict(text=s, x=x / W, y=1 - y / H, xref="paper", yref="paper", showarrow=False,
                xanchor="center", yanchor="middle", textangle=angle,
                font=dict(family=FONT, size=size, color="black"))

notes = [text("Change\u00a0 in\u00a0 biomass\u00a0 (g\u00a0 C\u00a0 m<sup>−2</sup>)", 1034, 27, 45)]
for c, t in enumerate(COLUMN_TITLES):
    notes.append(text(t, (COL_X[c][0] + COL_X[c][1]) / 2, 91, 43.5))
for r, t in enumerate(ROW_TITLES):
    notes.append(text(t, 19, [414, 1120, 1827, 2528][r], 47, -90))
for c in range(3):
    notes.append(text("INTEGRATION\u00a0 YEAR", (COL_X[c][0] + COL_X[c][1]) / 2, 2874, 43))

fig.update_layout(width=W, height=H, margin=dict(l=0, r=0, t=0, b=0, autoexpand=False),
                  paper_bgcolor="white", plot_bgcolor="white", showlegend=False,
                  annotations=notes, **layout)
fig.write_html("out.html", config={"displayModeBar": False},
               post_script="document.body.style.margin='0';")
